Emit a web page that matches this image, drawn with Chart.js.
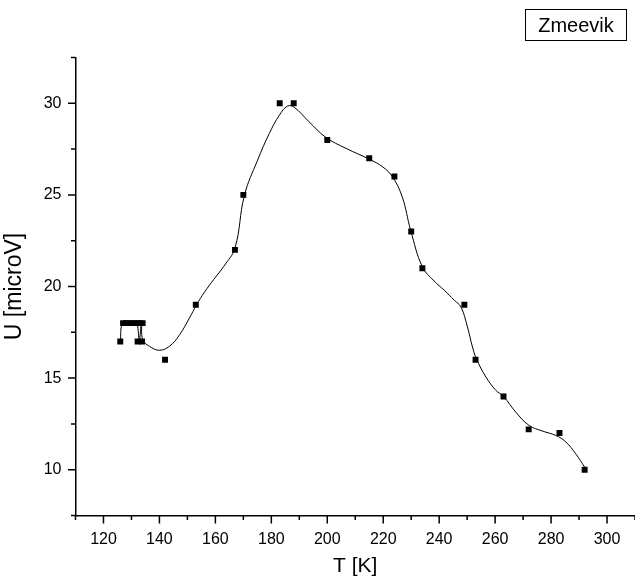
<!DOCTYPE html>
<html>
<head>
<meta charset="utf-8">
<script src="https://cdn.jsdelivr.net/npm/chart.js@4/dist/chart.umd.min.js"></script>
<style>
  body { margin: 0; background: #fff; }
  canvas { display: block; }
</style>
</head>
<body>
<canvas id="zmeevikChart" width="635" height="588"></canvas>
<script>
// Measured points: temperature (K) and signal (microV)
const temps = [126, 127, 128, 129, 130, 131, 132, 133, 134, 132.2, 133.8, 142, 153, 167, 170, 183, 188, 200, 215, 224, 230, 234, 249, 253, 263, 272, 283, 292];
const voltages = [17, 18, 18, 18, 18, 18, 18, 18, 18, 17, 17, 16, 19, 22, 25, 30, 30, 28, 27, 26, 23, 21, 19, 16, 14, 12.2, 12, 10];

// Smoothed spline through the measurements
const fitTemps = [126, 127, 131, 132, 132.8, 133.6, 134, 136.4, 140, 143.6, 147.1, 150.7, 153.2, 156.1, 159.4, 163, 167, 170.4, 175.1, 179.3, 182.9, 185.8, 188.2, 193.5, 199.5, 206.7, 215, 219.8, 223.3, 226.8, 229.8, 234, 238.2, 241.8, 245.4, 247.8, 250.1, 251.9, 253.3, 256.7, 260.3, 263, 267.4, 272.1, 276.9, 281.7, 285.3, 288.8, 292];
const fitVoltages = [17, 18, 18, 18, 17.1, 18, 17.1, 16.74, 16.52, 16.74, 17.34, 18.27, 18.98, 19.69, 20.38, 21.1, 22.1, 24.99, 26.9, 28.36, 29.36, 29.85, 29.78, 28.99, 28.14, 27.54, 26.95, 26.53, 25.99, 24.89, 23.07, 21.07, 20.3, 19.8, 19.25, 18.88, 17.79, 16.7, 16.06, 15.06, 14.33, 14.0, 13.14, 12.42, 12.11, 11.87, 11.51, 10.87, 10.14];

const seriesName = "Zmeevik";
const xRange = [110, 310];
const yRange = [7.5, 32.5];

const points = temps.map((t, i) => ({ x: t, y: voltages[i] }));
const fitPoints = fitTemps.map((t, i) => ({ x: t, y: fitVoltages[i] }));

// Outward tick marks, long on labelled values and short in between
const tickMarks = {
  id: "tickMarks",
  afterDraw(chart) {
    const { ctx, chartArea, scales } = chart;
    ctx.save();
    ctx.strokeStyle = "#000";
    ctx.lineWidth = 1.5;
    ctx.beginPath();
    scales.x.ticks.forEach((t) => {
      const px = scales.x.getPixelForValue(t.value);
      const len = t.value % 20 === 0 ? 8 : 4.5;
      ctx.moveTo(px, chartArea.bottom);
      ctx.lineTo(px, chartArea.bottom + len);
    });
    scales.y.ticks.forEach((t) => {
      const py = scales.y.getPixelForValue(t.value);
      const len = t.value % 5 === 0 ? 7.5 : 4.5;
      ctx.moveTo(chartArea.left, py);
      ctx.lineTo(chartArea.left - len, py);
    });
    ctx.stroke();
    ctx.restore();
  },
};

// Boxed series name in the top right corner
const nameBox = {
  id: "nameBox",
  afterDraw(chart) {
    const ctx = chart.ctx;
    ctx.save();
    ctx.strokeStyle = "#000";
    ctx.lineWidth = 1;
    ctx.strokeRect(525.5, 9.5, 101, 31);
    ctx.fillStyle = "#000";
    ctx.font = '20px "Liberation Sans", Arial, sans-serif';
    ctx.textAlign = "center";
    ctx.textBaseline = "middle";
    ctx.fillText(seriesName, 576, 26);
    ctx.restore();
  },
};

const font = { family: '"Liberation Sans", Arial, sans-serif' };

new Chart(document.getElementById("zmeevikChart"), {
  type: "scatter",
  data: {
    datasets: [
      {
        label: seriesName,
        data: points,
        showLine: false,
        pointStyle: "rect",
        pointRadius: 4.2,
        pointBackgroundColor: "#000",
        pointBorderWidth: 0,
      },
      {
        label: "spline",
        data: fitPoints,
        showLine: true,
        tension: 0.4,
        borderColor: "#000",
        borderWidth: 1,
        pointRadius: 0,
      },
    ],
  },
  options: {
    responsive: false,
    animation: false,
    devicePixelRatio: 1,
    layout: { autoPadding: false, padding: { top: 57.5, right: 0, left: 0, bottom: 0 } },
    plugins: {
      legend: { display: false },
      tooltip: { enabled: false },
    },
    scales: {
      x: {
        type: "linear",
        min: xRange[0],
        max: xRange[1],
        afterFit: (scale) => {
          scale.height = 72.5;
          scale.paddingLeft = 0;
          scale.paddingRight = 0;
        },
        ticks: {
          stepSize: 10,
          autoSkip: false,
          maxRotation: 0,
          padding: 14,
          color: "#000",
          font: { ...font, size: 16 },
          callback: (v) => (v % 20 === 0 && v >= 120 && v <= 300 ? v : ""),
        },
        grid: { drawOnChartArea: false, drawTicks: false },
        border: { color: "#000", width: 1.5 },
        title: {
          display: true,
          text: "T [K]",
          color: "#000",
          font: { ...font, size: 21 },
          padding: { top: 0, bottom: 9 },
        },
      },
      y: {
        type: "linear",
        min: yRange[0],
        max: yRange[1],
        afterFit: (scale) => {
          scale.width = 75.5;
          scale.paddingTop = 0;
          scale.paddingBottom = 0;
        },
        ticks: {
          stepSize: 2.5,
          autoSkip: false,
          padding: 14,
          color: "#000",
          font: { ...font, size: 16 },
          callback: (v) => (v % 5 === 0 ? v : ""),
        },
        grid: { drawOnChartArea: false, drawTicks: false },
        border: { color: "#000", width: 1.5 },
        title: {
          display: true,
          text: "U [microV]",
          color: "#000",
          font: { ...font, size: 23 },
          padding: { top: 1, bottom: 0 },
        },
      },
    },
  },
  plugins: [tickMarks, nameBox],
});
</script>
</body>
</html>
